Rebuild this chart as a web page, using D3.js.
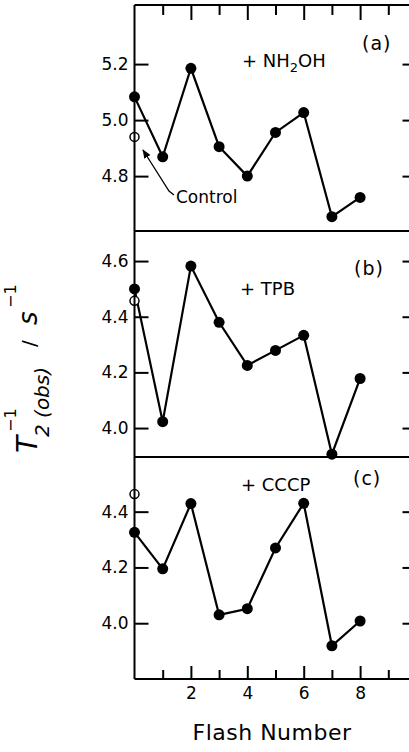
<!DOCTYPE html>
<html>
<head>
<meta charset="utf-8">
<script src="https://cdn.jsdelivr.net/npm/d3@7"></script>
<style>
  body { margin: 0; background: #fff; color: #000; }
  text { font-family: "DejaVu Sans", sans-serif; fill: #000; }
</style>
</head>
<body>
<div id="chart"></div>
<script>
// Flash number and T2^-1 values
const flashes = [0, 1, 2, 3, 4, 5, 6, 7, 8];
const nh2ohValues = [5.083, 4.869, 5.185, 4.905, 4.80, 4.956, 5.027, 4.655, 4.724];
const tpbValues = [4.50, 4.023, 4.582, 4.38, 4.225, 4.279, 4.333, 3.906, 4.178];
const cccpValues = [4.326, 4.195, 4.429, 4.03, 4.052, 4.27, 4.43, 3.919, 4.008];
const controlValues = [4.94, 4.457, 4.463];
const panelLetters = ["(a)", "(b)", "(c)"];
const yTicksA = [4.8, 5.0, 5.2];
const yTicksB = [4.0, 4.2, 4.4, 4.6];
const yTicksC = [4.0, 4.2, 4.4];
const xMajorTicks = [2, 4, 6, 8];
const xMinorTicks = [1, 3, 5, 7, 9];

const width = 409;
const height = 752;

const svg = d3.select("#chart")
    .append("svg")
    .attr("width", width)
    .attr("height", height);

const x = d3.scaleLinear().domain([0, 10]).range([134.5, 416.5]);

// each panel has its own y scale, stacked top to bottom
const panels = [
    {values: nh2ohValues, ticks: yTicksA, y: d3.scaleLinear().domain([4.604, 5.411]).range([231, 5])},
    {values: tpbValues, ticks: yTicksB, y: d3.scaleLinear().domain([3.896, 4.708]).range([457, 231])},
    {values: cccpValues, ticks: yTicksC, y: d3.scaleLinear().domain([3.8, 4.596]).range([679, 457])}
];

function styleAxis(g) {
    g.select(".domain").remove();
    g.selectAll(".tick line").attr("stroke", "#000").attr("stroke-width", 2);
    g.selectAll(".tick text").attr("font-size", 17).attr("font-family", "DejaVu Sans").attr("fill", "#000");
}

panels.forEach((p, i) => {
    // left axis, ticks pointing inward
    svg.append("g")
        .attr("transform", `translate(${x(0)},0)`)
        .call(d3.axisLeft(p.y).tickValues(p.ticks).tickFormat(d3.format(".1f"))
            .tickSizeInner(-14).tickSizeOuter(0).tickPadding(6))
        .call(styleAxis);

    // right axis, ticks only
    svg.append("g")
        .attr("transform", `translate(${x(10)},0)`)
        .call(d3.axisRight(p.y).tickValues(p.ticks).tickFormat(() => "")
            .tickSizeInner(-14).tickSizeOuter(0))
        .call(styleAxis);

    // bottom border of the panel
    svg.append("line")
        .attr("x1", x(0)).attr("x2", x(10))
        .attr("y1", p.y.range()[0]).attr("y2", p.y.range()[0])
        .attr("stroke", "#000").attr("stroke-width", 2);

    // data line
    const line = d3.line()
        .x((d, j) => x(flashes[j]))
        .y(d => p.y(d));
    svg.append("path")
        .datum(p.values)
        .attr("fill", "none")
        .attr("stroke", "#000")
        .attr("stroke-width", 2.2)
        .attr("d", line);

    svg.selectAll(null)
        .data(p.values)
        .enter()
        .append("circle")
        .attr("cx", (d, j) => x(flashes[j]))
        .attr("cy", d => p.y(d))
        .attr("r", 5.5)
        .attr("fill", "#000");

    // control (open circle)
    svg.append("circle")
        .attr("cx", x(0))
        .attr("cy", p.y(controlValues[i]))
        .attr("r", 4.5)
        .attr("fill", "#fff")
        .attr("stroke", "#000")
        .attr("stroke-width", 1.5);
});

// top border
svg.append("line")
    .attr("x1", x(0)).attr("x2", x(10))
    .attr("y1", 5).attr("y2", 5)
    .attr("stroke", "#000").attr("stroke-width", 2);

function flashAxis(ticks, size, top, labels) {
    const ax = (top ? d3.axisTop(x) : d3.axisBottom(x))
        .tickValues(ticks)
        .tickSizeInner(-size)
        .tickSizeOuter(0)
        .tickPadding(8)
        .tickFormat(labels ? d3.format("d") : () => "");
    svg.append("g")
        .attr("transform", `translate(0,${top ? 5 : 679})`)
        .call(ax)
        .call(styleAxis);
}
flashAxis(xMajorTicks, 15, true, false);
flashAxis(xMinorTicks, 10, true, false);
flashAxis(xMajorTicks, 13, false, true);
flashAxis(xMinorTicks, 9, false, false);

// left axis line over the whole height
svg.append("line")
    .attr("x1", x(0)).attr("x2", x(0))
    .attr("y1", 5).attr("y2", 679)
    .attr("stroke", "#000").attr("stroke-width", 2);

// panel labels
const letterPos = [[362, 50], [354, 275], [353, 485]];
panelLetters.forEach((t, i) => {
    svg.append("text")
        .attr("x", letterPos[i][0]).attr("y", letterPos[i][1])
        .attr("font-size", 19)
        .attr("letter-spacing", 1)
        .text(t);
});

const nh = svg.append("text").attr("x", 242).attr("y", 67).attr("font-size", 18);
nh.append("tspan").text("+ NH");
nh.append("tspan").attr("font-size", 13).attr("dy", 5).text("2");
nh.append("tspan").attr("dy", -5).text("OH");

svg.append("text").attr("x", 240).attr("y", 295).attr("font-size", 18).text("+ TPB");
svg.append("text").attr("x", 241).attr("y", 491).attr("font-size", 18).text("+ CCCP");

// control annotation
svg.append("defs").append("marker")
    .attr("id", "arrow")
    .attr("viewBox", "0 0 10 10")
    .attr("refX", 9).attr("refY", 5)
    .attr("markerWidth", 7).attr("markerHeight", 7)
    .attr("orient", "auto")
    .append("path")
    .attr("d", "M0,1 L10,5 L0,9 Z")
    .attr("fill", "#000");

svg.append("path")
    .attr("d", "M174,195 L169,191 L143,150")
    .attr("fill", "none")
    .attr("stroke", "#000")
    .attr("stroke-width", 1.3)
    .attr("marker-end", "url(#arrow)");

svg.append("text").attr("x", 176).attr("y", 203).attr("font-size", 17).text("Control");

// x axis title
svg.append("text")
    .attr("x", 272).attr("y", 740)
    .attr("text-anchor", "middle")
    .attr("font-size", 22)
    .attr("letter-spacing", 0.5)
    .text("Flash Number");

// y axis title: T2(obs)^-1 / s^-1, rotated
const yl = svg.append("g").attr("transform", "translate(37,453) rotate(-90)");
yl.append("text").attr("x", 0).attr("y", 0).attr("font-size", 28).attr("font-style", "italic").text("T");
yl.append("text").attr("x", 21).attr("y", -21).attr("font-size", 16).text("\u22121");
yl.append("text").attr("x", 16).attr("y", 12).attr("font-size", 20).attr("font-style", "italic").text("2 (obs)");
yl.append("text").attr("x", 106).attr("y", -1).attr("font-size", 20).text("/");
yl.append("text").attr("x", 128).attr("y", 0).attr("font-size", 26).attr("font-style", "italic").text("s");
yl.append("text").attr("x", 145).attr("y", -21).attr("font-size", 16).text("\u22121");
</script>
</body>
</html>
